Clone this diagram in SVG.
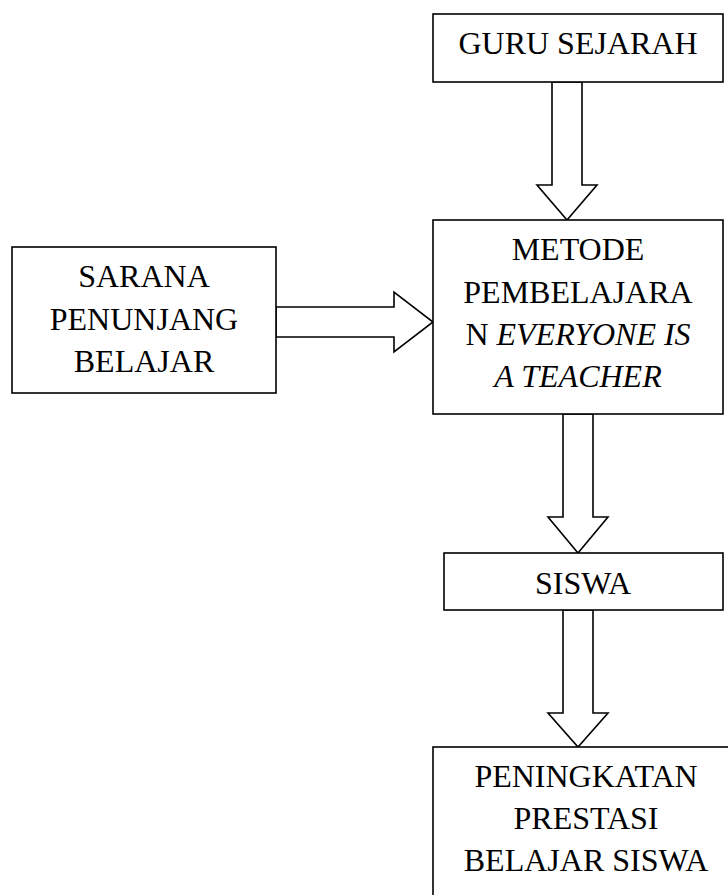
<svg xmlns="http://www.w3.org/2000/svg" width="728" height="895" viewBox="0 0 728 895">
<style>
.box{fill:#fff;stroke:#000;stroke-width:1.6}
.arr{fill:#fff;stroke:#000;stroke-width:1.6;stroke-linejoin:miter}
text{font-family:"Liberation Serif","Times New Roman",serif;font-size:32px;fill:#000;text-anchor:middle}
.it{font-style:italic}
</style>
<rect width="728" height="895" fill="#fff"/>
<g id="connectors">
<polygon class="arr" points="552,82 582,82 582,185 597,185 567,220 537,185 552,185"/>
<polygon class="arr" points="276,307 394,307 394,292 433,322 394,352 394,337 276,337"/>
<polygon class="arr" points="563,414 593,414 593,517 608,517 578,553 548,517 563,517"/>
<polygon class="arr" points="563,610 593,610 593,713 608,713 578,747 548,713 563,713"/>
</g>
<g id="guru">
<rect class="box" x="433" y="14" width="290" height="68"/>
<text x="578" y="54">GURU SEJARAH</text>
</g>
<g id="sarana">
<rect class="box" x="12" y="247" width="264" height="146"/>
<text x="144" y="287">SARANA</text>
<text x="144" y="330">PENUNJANG</text>
<text x="144" y="372">BELAJAR</text>
</g>
<g id="metode">
<rect class="box" x="433" y="220" width="290" height="194"/>
<text x="578" y="260">METODE</text>
<text x="578" y="303">PEMBELAJARA</text>
<text x="578" y="345">N <tspan class="it">EVERYONE IS</tspan></text>
<text x="578" y="387" class="it">A TEACHER</text>
</g>
<g id="siswa">
<rect class="box" x="444" y="553" width="279" height="57"/>
<text x="583" y="594">SISWA</text>
</g>
<g id="peningkatan">
<rect class="box" x="433" y="747" width="307" height="160"/>
<text x="586" y="787">PENINGKATAN</text>
<text x="586" y="829">PRESTASI</text>
<text x="586" y="871">BELAJAR SISWA</text>
</g>
</svg>
